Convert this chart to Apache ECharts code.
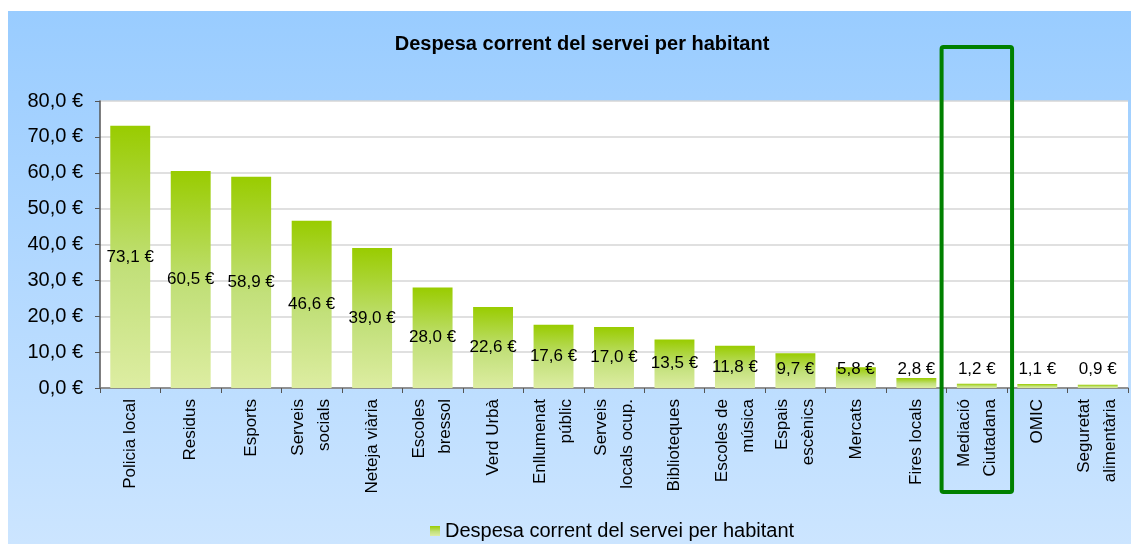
<!DOCTYPE html>
<html>
<head>
<meta charset="utf-8">
<script src="https://cdn.jsdelivr.net/npm/echarts@6/dist/echarts.min.js"></script>
<style>
  html, body { margin: 0; padding: 0; background: #fff; }
  #wrap {
    position: absolute; left: 8px; top: 11px; width: 1123px; height: 533px;
    background: linear-gradient(to bottom, #99ccff 0%, #cce5ff 100%);
  }
  #chart { width: 1123px; height: 533px; }
</style>
</head>
<body>
<div id="wrap"><div id="chart"></div></div>
<script>
var categories = [
  'Policia local', 'Residus', 'Esports', 'Serveis\nsocials', 'Neteja viària',
  'Escoles\nbressol', 'Verd Urbà', 'Enllumenat\npúblic', 'Serveis\nlocals ocup.',
  'Biblioteques', 'Escoles de\nmúsica', 'Espais\nescènics', 'Mercats',
  'Fires locals', 'Mediació\nCiutadana', 'OMIC', 'Seguretat\nalimentària'
]
var despesa = [73.1, 60.5, 58.9, 46.6, 39.0, 28.0, 22.6, 17.6, 17.0, 13.5, 11.8, 9.7, 5.8, 2.8, 1.2, 1.1, 0.9]
var highlighted = 'Mediació\nCiutadana'

var font = 'Liberation Sans, Arial, sans-serif'
function euro(v) {
  return v.toFixed(1).replace('.', ',') + ' €'
}

var myChart = echarts.init(document.getElementById('chart'))

var barData = despesa.map(function (v) {
  // short bars: label sits just above the axis instead of the bar middle
  if (v < 11.2) {
    return { value: v, label: { position: 'insideBottom', distance: 10 } }
  }
  return v
})

myChart.setOption({
  animation: false,
  title: {
    text: 'Despesa corrent del servei per habitant',
    left: 569,
    textAlign: 'center',
    top: 18,
    textStyle: { fontFamily: font, fontSize: 20, fontWeight: 'bold', color: '#000' }
  },
  legend: {
    left: 417,
    top: 505,
    itemWidth: 10,
    itemHeight: 10,
    itemGap: 10,
    icon: 'rect',
    textStyle: { fontFamily: font, fontSize: 20, color: '#000' }
  },
  grid: {
    left: 92,
    right: 3,
    top: 90,
    bottom: 156,
    show: true,
    backgroundColor: '#fff',
    borderWidth: 0
  },
  xAxis: {
    type: 'category',
    data: categories,
    axisLine: { lineStyle: { color: '#777', width: 1.5 } },
    axisTick: { show: true, length: 5, lineStyle: { color: '#555' } },
    axisLabel: {
      interval: 0,
      rotate: 90,
      margin: 11,
      fontFamily: font,
      fontSize: 17,
      lineHeight: 26,
      color: '#000'
    }
  },
  yAxis: {
    type: 'value',
    min: 0,
    max: 80,
    interval: 10,
    axisLine: { show: true, lineStyle: { color: '#555', width: 1.5 } },
    axisTick: { show: true, length: 5, lineStyle: { color: '#555' } },
    splitLine: { lineStyle: { color: '#d6d6d6', width: 1.5 } },
    axisLabel: {
      margin: 17,
      fontFamily: font,
      fontSize: 20,
      color: '#000',
      formatter: euro
    }
  },
  series: [
    {
      name: 'Despesa corrent del servei per habitant',
      type: 'bar',
      data: barData,
      barCategoryGap: '34%',
      itemStyle: {
        color: new echarts.graphic.LinearGradient(0, 0, 0, 1, [
          { offset: 0, color: '#99cc00' },
          { offset: 0.55, color: '#c2e07a' },
          { offset: 1, color: '#ddeda2' }
        ])
      },
      label: {
        show: true,
        position: 'inside',
        fontFamily: font,
        fontSize: 17,
        color: '#000',
        formatter: function (p) { return euro(p.value) }
      }
    }
  ]
})

// green frame round the highlighted category
var cx = myChart.convertToPixel({ xAxisIndex: 0 }, highlighted)
var band = myChart.convertToPixel({ xAxisIndex: 0 }, categories[1]) - myChart.convertToPixel({ xAxisIndex: 0 }, categories[0])
var yTop = myChart.convertToPixel({ yAxisIndex: 0 }, 80)
var yZero = myChart.convertToPixel({ yAxisIndex: 0 }, 0)
myChart.setOption({
  graphic: [{
    type: 'rect',
    shape: { x: cx - band / 2 - 5, y: yTop - 54, width: band + 10, height: yZero - yTop + 158, r: 2 },
    style: { fill: 'none', stroke: '#008000', lineWidth: 4 },
    z: 100
  }]
})
</script>
</body>
</html>
